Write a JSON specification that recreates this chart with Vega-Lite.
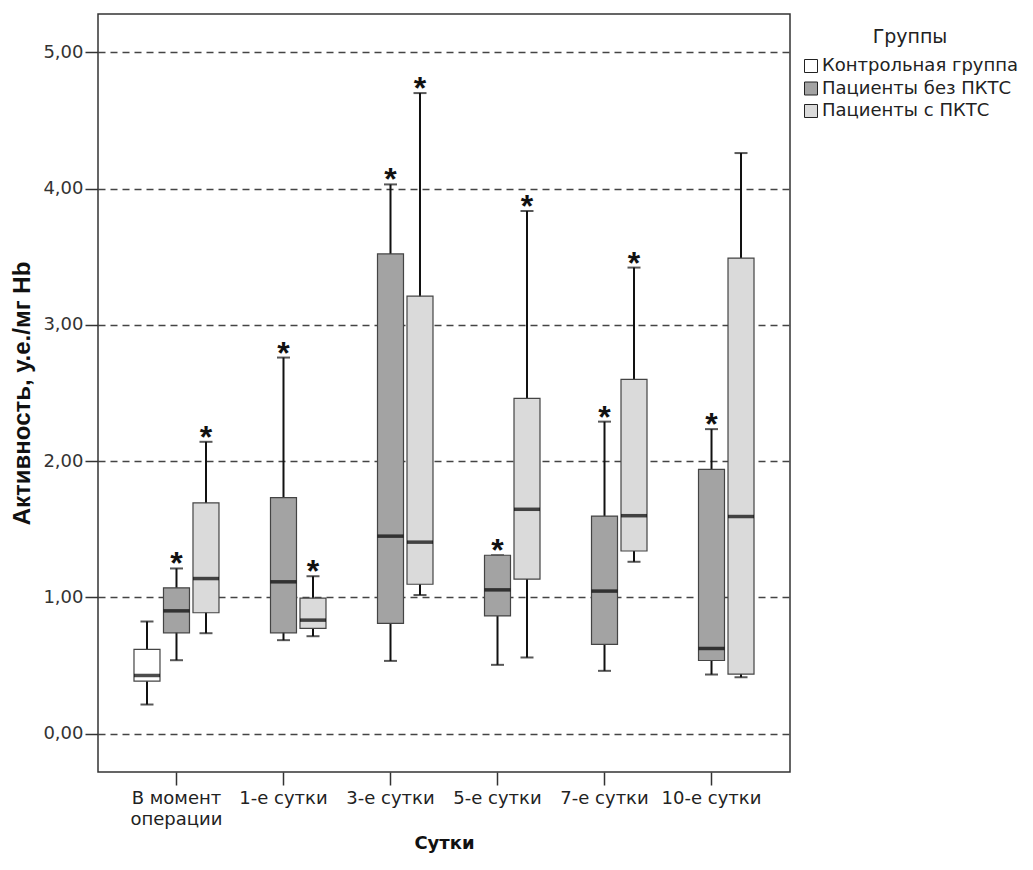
{
  "$schema": "https://vega.github.io/schema/vega-lite/v6.json",
  "width": 692,
  "height": 758,
  "autosize": {"type": "none"},
  "padding": {"left": 98, "top": 14, "right": 243, "bottom": 98},
  "background": "white",
  "config": {
    "view": {"stroke": "#333", "strokeWidth": 1.5},
    "font": "DejaVu Sans",
    "axisY": {
      "grid": true,
      "gridDash": [7, 5],
      "gridColor": "#444",
      "gridWidth": 1.5,
      "domain": false,
      "tickSize": 13,
      "tickColor": "#333",
      "tickWidth": 1.5,
      "labelPadding": 2,
      "labelFont": "DejaVu Sans",
      "labelFontSize": 18,
      "labelColor": "#333",
      "titleFont": "Liberation Sans",
      "titleFontSize": 24,
      "titleFontWeight": "bold",
      "titleColor": "#111",
      "titleX": -76,
      "titleY": 379,
      "titleBaseline": "middle"
    }
  },
  "data": {
    "values": [
      {"day": "В момент операции", "group": "Контрольная группа", "wlo": 0.215, "q1": 0.386, "med": 0.428, "q3": 0.619, "whi": 0.824, "star": 0},
      {"day": "В момент операции", "group": "Пациенты без ПКТС", "wlo": 0.54, "q1": 0.741, "med": 0.902, "q3": 1.071, "whi": 1.213, "star": 1},
      {"day": "В момент операции", "group": "Пациенты с ПКТС", "wlo": 0.738, "q1": 0.888, "med": 1.139, "q3": 1.694, "whi": 2.142, "star": 1},
      {"day": "1-е сутки", "group": "Пациенты без ПКТС", "wlo": 0.687, "q1": 0.741, "med": 1.115, "q3": 1.733, "whi": 2.76, "star": 1},
      {"day": "1-е сутки", "group": "Пациенты с ПКТС", "wlo": 0.716, "q1": 0.773, "med": 0.834, "q3": 0.995, "whi": 1.156, "star": 1},
      {"day": "3-е сутки", "group": "Пациенты без ПКТС", "wlo": 0.535, "q1": 0.81, "med": 1.45, "q3": 3.52, "whi": 4.03, "star": 1},
      {"day": "3-е сутки", "group": "Пациенты с ПКТС", "wlo": 1.018, "q1": 1.097, "med": 1.406, "q3": 3.21, "whi": 4.7, "star": 1},
      {"day": "5-е сутки", "group": "Пациенты без ПКТС", "wlo": 0.506, "q1": 0.865, "med": 1.056, "q3": 1.31, "whi": 1.31, "star": 1},
      {"day": "5-е сутки", "group": "Пациенты с ПКТС", "wlo": 0.56, "q1": 1.135, "med": 1.647, "q3": 2.46, "whi": 3.835, "star": 1},
      {"day": "7-е сутки", "group": "Пациенты без ПКТС", "wlo": 0.462, "q1": 0.656, "med": 1.047, "q3": 1.597, "whi": 2.29, "star": 1},
      {"day": "7-е сутки", "group": "Пациенты с ПКТС", "wlo": 1.262, "q1": 1.341, "med": 1.6, "q3": 2.6, "whi": 3.42, "star": 1},
      {"day": "10-е сутки", "group": "Пациенты без ПКТС", "wlo": 0.435, "q1": 0.538, "med": 0.626, "q3": 1.94, "whi": 2.235, "star": 1},
      {"day": "10-е сутки", "group": "Пациенты с ПКТС", "wlo": 0.415, "q1": 0.438, "med": 1.594, "q3": 3.49, "whi": 4.26, "star": 0}
    ]
  },
  "encoding": {
    "x": {
      "field": "day",
      "type": "nominal",
      "sort": ["В момент операции", "1-е сутки", "3-е сутки", "5-е сутки", "7-е сутки", "10-е сутки"],
      "scale": {"paddingInner": 0.173, "paddingOuter": 0.32},
      "axis": {
        "title": "Сутки",
        "labelExpr": "datum.value == 'В момент операции' ? ['В момент', 'операции'] : datum.label",
        "labelAngle": 0,
        "domain": false,
        "tickSize": 13,
        "tickColor": "#333",
        "tickWidth": 1.5,
        "labelFont": "DejaVu Sans",
        "labelFontSize": 18,
        "labelColor": "#222",
        "labelPadding": 4,
        "labelLineHeight": 21,
        "labelBaseline": "top",
        "titleFont": "DejaVu Sans",
        "titleFontSize": 18,
        "titleFontWeight": "bold",
        "titleColor": "#111",
        "titleY": 71,
        "titleBaseline": "middle"
      }
    },
    "xOffset": {
      "field": "group",
      "type": "nominal",
      "sort": ["Контрольная группа", "Пациенты без ПКТС", "Пациенты с ПКТС"],
      "scale": {"domain": ["Контрольная группа", "Пациенты без ПКТС", "Пациенты с ПКТС"], "paddingInner": 0, "paddingOuter": 0}
    }
  },
  "layer": [
    {
      "mark": {"type": "rule", "color": "#111", "strokeWidth": 2},
      "encoding": {
        "y": {
          "field": "wlo",
          "type": "quantitative",
          "title": "Активность, у.е./мг Hb",
          "scale": {"domain": [-0.28, 5.28], "nice": false, "zero": false},
          "axis": {
            "title": "Активность, у.е./мг Hb",
            "values": [0, 1, 2, 3, 4, 5],
            "labelExpr": "replace(format(datum.value, '.2f'), '.', ',')"
          }
        },
        "y2": {"field": "whi"}
      }
    },
    {
      "mark": {"type": "tick", "orient": "horizontal", "size": 13, "thickness": 2, "color": "#111"},
      "encoding": {"y": {"field": "wlo", "type": "quantitative", "title": "Активность, у.е./мг Hb"}}
    },
    {
      "mark": {"type": "tick", "orient": "horizontal", "size": 13, "thickness": 2, "color": "#111"},
      "encoding": {"y": {"field": "whi", "type": "quantitative", "title": "Активность, у.е./мг Hb"}}
    },
    {
      "mark": {"type": "bar", "size": 26, "stroke": "#444", "strokeWidth": 1.2, "opacity": 1},
      "encoding": {
        "y": {"field": "q1", "type": "quantitative", "title": "Активность, у.е./мг Hb"},
        "y2": {"field": "q3"},
        "fill": {
          "field": "group",
          "type": "nominal",
          "scale": {"domain": ["Контрольная группа", "Пациенты без ПКТС", "Пациенты с ПКТС"], "range": ["#ffffff", "#a3a3a3", "#dadada"]},
          "legend": {
            "orient": "none",
            "legendX": 704,
            "legendY": 14,
            "title": "Группы",
            "titleFont": "DejaVu Sans",
            "titleFontSize": 19,
            "titleFontWeight": "normal",
            "titleColor": "#222",
            "titleAnchor": "middle",
            "titlePadding": 10,
            "labelFont": "DejaVu Sans",
            "labelFontSize": 18,
            "labelColor": "#222",
            "labelOffset": 2,
            "labelLimit": 0,
            "symbolType": "square",
            "symbolSize": 169,
            "symbolStrokeColor": "#222",
            "symbolStrokeWidth": 1,
            "rowPadding": 4.5,
            "padding": 0
          }
        }
      }
    },
    {
      "mark": {"type": "tick", "orient": "horizontal", "size": 26, "thickness": 3.5, "color": "#000"},
      "encoding": {"y": {"field": "med", "type": "quantitative", "title": "Активность, у.е./мг Hb"}}
    },
    {
      "transform": [{"filter": "datum.star == 1"}],
      "mark": {"type": "text", "text": "*", "font": "Liberation Sans", "fontSize": 32, "fontWeight": "bold", "baseline": "alphabetic", "dy": 6, "color": "#111"},
      "encoding": {"y": {"field": "whi", "type": "quantitative", "title": "Активность, у.е./мг Hb"}}
    }
  ]
}
